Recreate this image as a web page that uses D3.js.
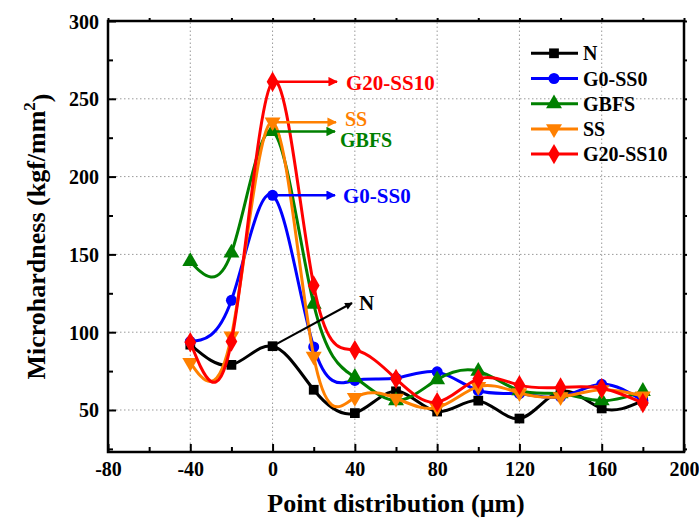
<!DOCTYPE html>
<html>
<head>
<meta charset="utf-8">
<script src="https://cdn.jsdelivr.net/npm/d3@7"></script>
<style>
  html, body { margin: 0; padding: 0; background: #fff; }
  svg { display: block; font-family: "Liberation Serif", "Times New Roman", serif; font-weight: bold; }
</style>
</head>
<body>
<svg id="chart" width="699" height="521"></svg>
<script>
// Measurement positions (µm)
const positions = [-40, -20, 0, 20, 40, 60, 80, 100, 120, 140, 160, 180];

// Microhardness series (kgf/mm²)
const seriesN       = [92, 79, 91, 63, 48, 62, 49, 56, 44.5, 62, 51, 56];
const seriesG0SS0   = [94, 120.5, 188, 90.5, 69, 70.5, 74.5, 62.5, 60.5, 58.5, 66.5, 56];
const seriesGBFS    = [145.5, 151, 229, 118, 71, 56, 69.5, 75, 62.5, 60.5, 56, 62];
const seriesSS      = [80.5, 97.5, 235, 84.5, 58, 57.5, 51.5, 65, 61, 58.5, 63, 59];
const seriesG20SS10 = [93.5, 94, 261, 130, 88.5, 70, 55, 70, 66, 64.5, 64, 54.5];

const seriesNames = ["N", "G0-SS0", "GBFS", "SS", "G20-SS10"];
const seriesColors = ["#000000", "#0000FF", "#008000", "#FF8000", "#FF0000"];
const seriesSymbols = [d3.symbolSquare, d3.symbolCircle, d3.symbolTriangle, "triangleDown", d3.symbolDiamond];
const seriesValues = [seriesN, seriesG0SS0, seriesGBFS, seriesSS, seriesG20SS10];

const xTicks = [-80, -40, 0, 40, 80, 120, 160, 200];
const yTicks = [50, 100, 150, 200, 250, 300];

const svg = d3.select("#chart");
const margin = { left: 108, right: 15, top: 21, bottom: 69 };
const W = 699, H = 521;
const x = d3.scaleLinear().domain([-80, 200]).range([margin.left, W - margin.right]);
const y = d3.scaleLinear().domain([23, 300]).range([H - margin.bottom, margin.top]);

const x0 = x.range()[0], x1 = x.range()[1];
const y0 = y.range()[0], y1 = y.range()[1];

// Dotted grid at major ticks
const grid = svg.append("g").attr("stroke", "#9a9a9a").attr("stroke-width", 1).attr("stroke-dasharray", "1.5,2.5");
xTicks.filter(t => t > -80 && t < 200).forEach(t => {
  grid.append("line").attr("x1", x(t)).attr("x2", x(t)).attr("y1", y0).attr("y2", y1);
});
yTicks.filter(t => t < 300).forEach(t => {
  grid.append("line").attr("x1", x0).attr("x2", x1).attr("y1", y(t)).attr("y2", y(t));
});

// Axes
const tickFont = "20px";
const xMinor = d3.range(-80, 201, 20);
const yMinor = d3.range(25, 301, 25).filter(v => v >= 23);

const xAxis = svg.append("g").attr("transform", `translate(0,${y0})`)
  .call(d3.axisBottom(x).tickValues(xMinor).tickSize(-5).tickFormat(d => xTicks.includes(d) ? d : ""));
xAxis.selectAll(".tick line").attr("y2", d => xTicks.includes(d) ? -8 : -5);
const yAxis = svg.append("g").attr("transform", `translate(${x0},0)`)
  .call(d3.axisLeft(y).tickValues(yMinor).tickSize(-5).tickFormat(d => yTicks.includes(d) ? d : ""));
yAxis.selectAll(".tick line").attr("x2", d => yTicks.includes(d) ? 8 : 5);

const topAxis = svg.append("g").attr("transform", `translate(0,${y1})`)
  .call(d3.axisTop(x).tickValues(xMinor).tickSize(3).tickFormat(""));
const rightAxis = svg.append("g").attr("transform", `translate(${x1},0)`)
  .call(d3.axisRight(y).tickValues(yMinor).tickSize(3).tickFormat(""));

[xAxis, yAxis, topAxis, rightAxis].forEach(g => {
  g.select(".domain").remove();
  g.selectAll(".tick line").attr("stroke", "#000").attr("stroke-width", 2);
  g.selectAll("text").attr("font-size", tickFont).attr("font-family", "Liberation Serif, serif")
    .attr("font-weight", "bold").attr("fill", "#000");
});
xAxis.selectAll("text").attr("dy", "0.71em").attr("y", 10);
yAxis.selectAll("text").attr("x", -9).attr("dy", "0.35em");

// Frame
svg.append("rect").attr("x", x0).attr("y", y1).attr("width", x1 - x0).attr("height", y0 - y1)
  .attr("fill", "none").attr("stroke", "#000").attr("stroke-width", 2.5);

// Axis titles
svg.append("text").attr("x", (x0 + x1) / 2).attr("y", 512).attr("text-anchor", "middle")
  .attr("font-size", "26px").text("Point distribution (\u03bcm)");
const yt = svg.append("text").attr("transform", `translate(45,${(y0 + y1) / 2}) rotate(-90)`)
  .attr("text-anchor", "middle").attr("font-size", "26px");
yt.append("tspan").text("Microhardness (kgf/mm");
yt.append("tspan").attr("dy", "-0.6em").attr("font-size", "17px").text("2");
yt.append("tspan").attr("dy", "0.6em").text(")");

// Markers
function symbolPath(sym, size) {
  if (sym === "triangleDown") {
    return d3.symbol().type(d3.symbolTriangle).size(size)();
  }
  return d3.symbol().type(sym).size(size)();
}
const symbolSizes = [95, 95, 110, 110, 120];

const line = d3.line().x(d => x(d[0])).y(d => y(d[1])).curve(d3.curveNatural);

const plot = svg.append("g");
seriesValues.forEach((vals, i) => {
  const pts = positions.map((p, k) => [p, vals[k]]);
  const g = plot.append("g");
  g.append("path").attr("d", line(pts)).attr("fill", "none")
    .attr("stroke", seriesColors[i]).attr("stroke-width", 3);
  g.selectAll("path.m").data(pts).join("path").attr("class", "m")
    .attr("d", symbolPath(seriesSymbols[i], symbolSizes[i]))
    .attr("transform", d => `translate(${x(d[0])},${y(d[1])})` + (seriesSymbols[i] === "triangleDown" ? " rotate(180)" : ""))
    .attr("fill", seriesColors[i]);
});

// Arrow markers
const defs = svg.append("defs");
seriesColors.forEach((c, i) => {
  defs.append("marker").attr("id", "arr" + i).attr("viewBox", "0 0 10 10")
    .attr("refX", 9).attr("refY", 5).attr("markerWidth", 5.5).attr("markerHeight", 3.8)
    .attr("markerUnits", "strokeWidth").attr("orient", "auto")
    .append("path").attr("d", "M0,0 L10,5 L0,10 Z").attr("fill", c);
});

// Peak annotations: arrow from the value at 0 µm to the series name
const peakIdx = positions.indexOf(0);
const notes = [
  { s: 4, tipX: 337, tx: 346, ty: 8, fs: 21 },
  { s: 3, tipX: 336, tx: 345, ty: 4, fs: 20 },
  { s: 2, tipX: 335, tx: 340, ty: 16, fs: 20 },
  { s: 1, tipX: 335, tx: 343, ty: 8, fs: 21 },
];
notes.forEach(n => {
  const px = x(0), py = y(seriesValues[n.s][peakIdx]);
  svg.append("line").attr("x1", px).attr("y1", py).attr("x2", n.tipX).attr("y2", py)
    .attr("stroke", seriesColors[n.s]).attr("stroke-width", 2.5).attr("marker-end", `url(#arr${n.s})`);
  svg.append("text").attr("x", n.tx).attr("y", py + n.ty).attr("font-size", n.fs + "px")
    .attr("fill", seriesColors[n.s]).text(seriesNames[n.s]);
});
{
  const px = x(0), py = y(seriesN[peakIdx]);
  svg.append("line").attr("x1", px).attr("y1", py).attr("x2", 352).attr("y2", 303)
    .attr("stroke", "#000").attr("stroke-width", 2).attr("marker-end", "url(#arr0)");
  svg.append("text").attr("x", 359).attr("y", 310).attr("font-size", "21px").attr("fill", "#000").text("N");
}

// Legend
const legend = svg.append("g");
seriesNames.forEach((name, i) => {
  const ly = 53.3 + i * 25.2;
  legend.append("line").attr("x1", 531).attr("x2", 578).attr("y1", ly).attr("y2", ly)
    .attr("stroke", seriesColors[i]).attr("stroke-width", 3);
  legend.append("path").attr("d", symbolPath(seriesSymbols[i], symbolSizes[i]))
    .attr("transform", `translate(554,${ly})` + (seriesSymbols[i] === "triangleDown" ? " rotate(180)" : ""))
    .attr("fill", seriesColors[i]);
  legend.append("text").attr("x", 583).attr("y", ly + 7).attr("font-size", "20px").attr("fill", "#000").text(name);
});
</script>
</body>
</html>
